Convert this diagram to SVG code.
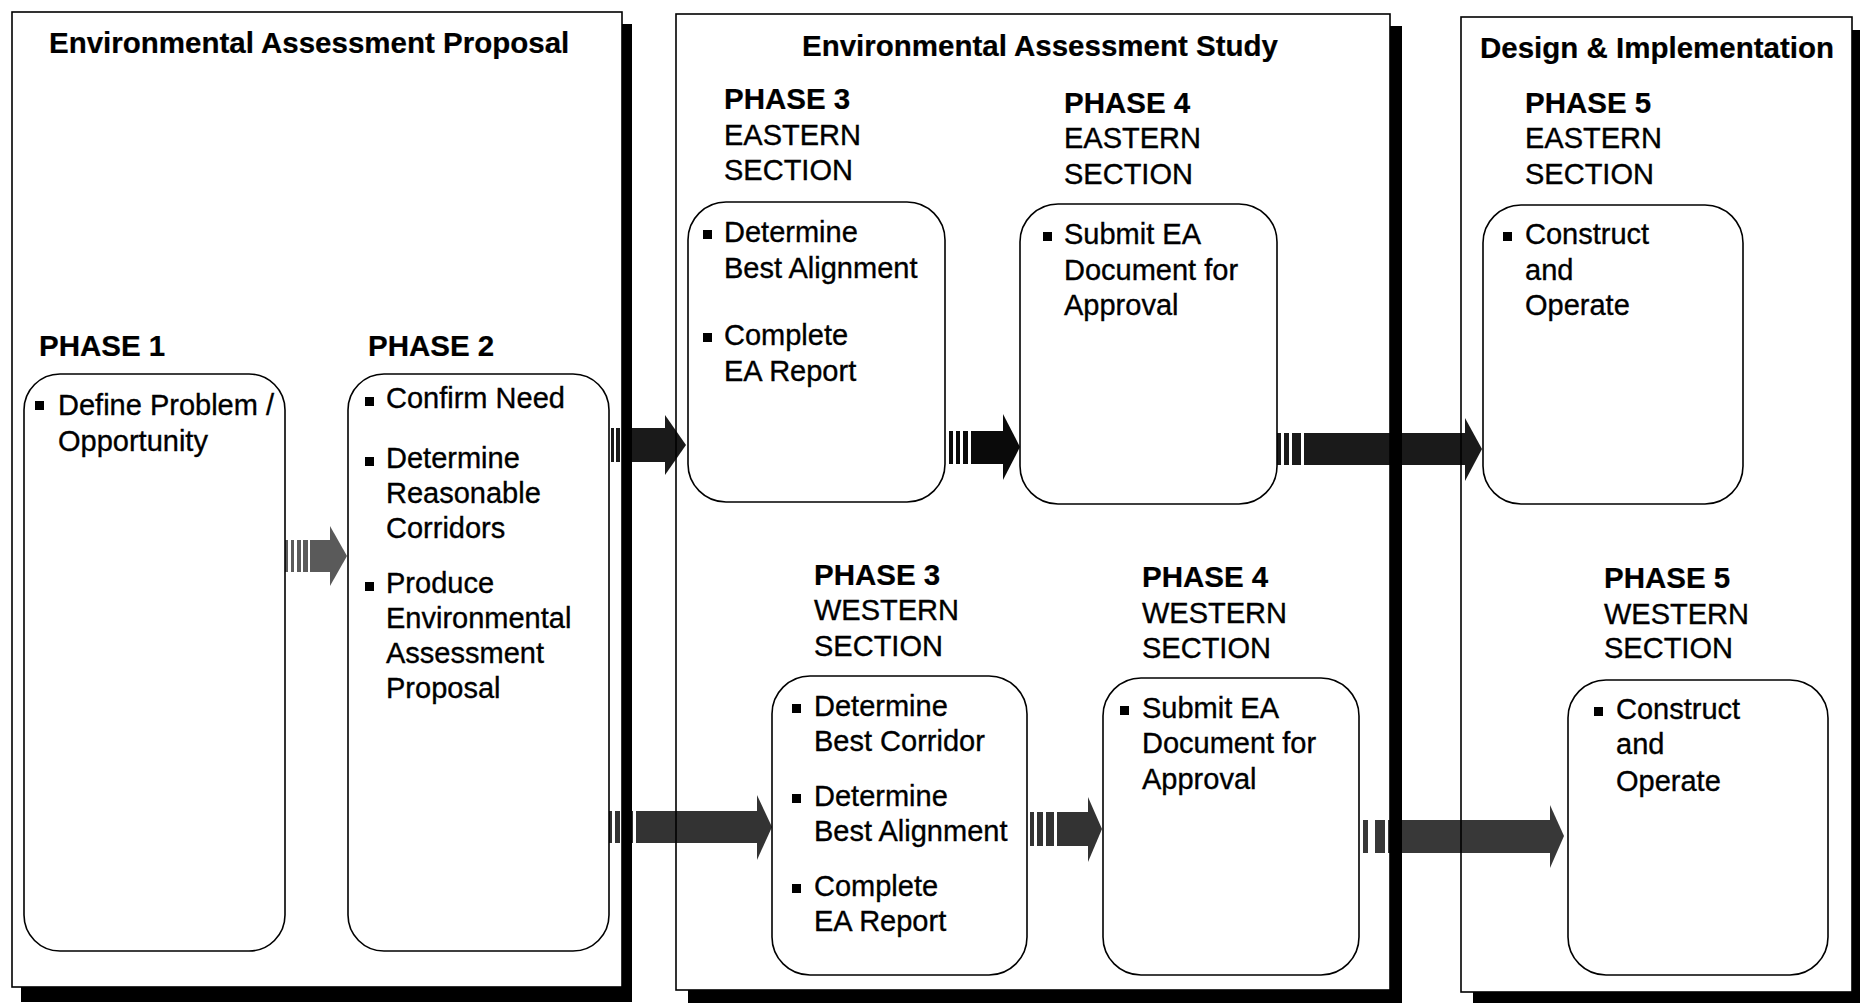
<svg xmlns="http://www.w3.org/2000/svg" width="1860" height="1003" viewBox="0 0 1860 1003">
<style>
.bg{fill:#fff}
.frame{fill:none;stroke:#000;stroke-width:1.6}
.shadow{fill:#000}
.box{fill:#fff;stroke:#000;stroke-width:1.6}
.t{font-family:"Liberation Sans",Arial,Helvetica,sans-serif;font-size:29px;fill:#000;stroke:#000;stroke-width:0.35}
.b{font-weight:bold;font-size:29.5px;stroke-width:0.2}
.bul{fill:#000}
</style>
<rect x="0" y="0" width="1860" height="1003" fill="#fff"/>
<g id="panel-backgrounds">
<rect class="bg" x="12" y="12" width="610" height="975"/>
<rect class="bg" x="676" y="14" width="714" height="976"/>
<rect class="bg" x="1461" y="17" width="391" height="975"/>
</g>
<g id="connectors">
<g id="arrow-p1-p2" fill="#5a5a5a">
<rect x="285" y="540" width="3" height="32"/><rect x="291" y="540" width="3" height="32"/><rect x="297" y="540" width="4" height="32"/><rect x="303" y="540" width="5" height="32"/>
<rect x="310" y="540" width="21" height="32"/><polygon points="330,526 347,556 330,586"/>
</g>
<g id="arrow-p2-p3e" fill="#1a1a1a">
<rect x="611" y="428" width="3" height="34"/><rect x="616" y="428" width="4" height="34"/>
<rect x="622" y="428" width="45" height="34"/><polygon points="665,415 686,445 665,475"/>
</g>
<g id="arrow-p3e-p4e" fill="#0a0a0a">
<rect x="949" y="431" width="4" height="33"/><rect x="956" y="431" width="4" height="33"/><rect x="963" y="431" width="5" height="33"/>
<rect x="971" y="431" width="33" height="33"/><polygon points="1003,414 1020,447 1003,480"/>
</g>
<g id="arrow-p4e-p5e" fill="#1a1a1a">
<rect x="1277" y="433" width="4" height="32"/><rect x="1284" y="433" width="5" height="32"/><rect x="1292" y="433" width="9" height="32"/>
<rect x="1304" y="433" width="162" height="32"/><polygon points="1465,418 1482,449 1465,481"/>
</g>
<g id="arrow-p2-p3w" fill="#333">
<rect x="608" y="811" width="4" height="32"/><rect x="615" y="811" width="5" height="32"/><rect x="623" y="811" width="10" height="32"/>
<rect x="636" y="811" width="122" height="32"/><polygon points="757,795 772,827 757,860"/>
</g>
<g id="arrow-p3w-p4w" fill="#333">
<rect x="1030" y="812" width="4" height="34"/><rect x="1037" y="812" width="6" height="34"/><rect x="1046" y="812" width="8" height="34"/>
<rect x="1057" y="812" width="32" height="34"/><polygon points="1088,797 1102,829 1088,862"/>
</g>
<g id="arrow-p4w-p5w" fill="#383838">
<rect x="1363" y="820" width="5" height="33"/><rect x="1375" y="820" width="10" height="33"/>
<rect x="1388" y="820" width="163" height="33"/><polygon points="1550,805 1564,836 1550,868"/>
</g>
</g>
<g id="panel-proposal">
<rect class="frame" x="12" y="12" width="610" height="975"/>
<rect class="shadow" x="622" y="24" width="10" height="978"/>
<rect class="shadow" x="21" y="987" width="611" height="15"/>
<text class="t b" x="49" y="53">Environmental Assessment Proposal</text>
</g>
<g id="panel-study">
<rect class="frame" x="676" y="14" width="714" height="976"/>
<rect class="shadow" x="1390" y="26" width="12" height="977"/>
<rect class="shadow" x="688" y="990" width="714" height="13"/>
<text class="t b" x="802" y="56">Environmental Assessment Study</text>
</g>
<g id="panel-design">
<rect class="frame" x="1461" y="17" width="391" height="975"/>
<rect class="shadow" x="1852" y="30" width="8" height="973"/>
<rect class="shadow" x="1473" y="992" width="387" height="11"/>
<text class="t b" x="1480" y="58">Design &amp; Implementation</text>
</g>
<g id="phase1">
<text class="t b" x="39" y="356">PHASE 1</text>
<rect class="box" x="24" y="374" width="261" height="577" rx="36"/>
<rect class="bul" x="35" y="401" width="9" height="9"/>
<text class="t" x="58" y="415">Define Problem /</text>
<text class="t" x="58" y="451">Opportunity</text>
</g>
<g id="phase2">
<text class="t b" x="368" y="356">PHASE 2</text>
<rect class="box" x="348" y="374" width="261" height="577" rx="36"/>
<rect class="bul" x="365" y="397" width="9" height="9"/>
<text class="t" x="386" y="408">Confirm Need</text>
<rect class="bul" x="365" y="457" width="9" height="9"/>
<text class="t" x="386" y="468">Determine</text>
<text class="t" x="386" y="503">Reasonable</text>
<text class="t" x="386" y="538">Corridors</text>
<rect class="bul" x="365" y="582" width="9" height="9"/>
<text class="t" x="386" y="593">Produce</text>
<text class="t" x="386" y="628">Environmental</text>
<text class="t" x="386" y="663">Assessment</text>
<text class="t" x="386" y="698">Proposal</text>
</g>
<g id="phase3-eastern">
<text class="t b" x="724" y="109">PHASE 3</text>
<text class="t" x="724" y="145">EASTERN</text>
<text class="t" x="724" y="180">SECTION</text>
<rect class="box" x="688" y="202" width="257" height="300" rx="38"/>
<rect class="bul" x="703" y="230" width="9" height="9"/>
<text class="t" x="724" y="242">Determine</text>
<text class="t" x="724" y="278">Best Alignment</text>
<rect class="bul" x="703" y="333" width="9" height="9"/>
<text class="t" x="724" y="345">Complete</text>
<text class="t" x="724" y="381">EA Report</text>
</g>
<g id="phase4-eastern">
<text class="t b" x="1064" y="113">PHASE 4</text>
<text class="t" x="1064" y="148">EASTERN</text>
<text class="t" x="1064" y="184">SECTION</text>
<rect class="box" x="1020" y="204" width="257" height="300" rx="38"/>
<rect class="bul" x="1043" y="232" width="9" height="9"/>
<text class="t" x="1064" y="244">Submit EA</text>
<text class="t" x="1064" y="280">Document for</text>
<text class="t" x="1064" y="315">Approval</text>
</g>
<g id="phase5-eastern">
<text class="t b" x="1525" y="113">PHASE 5</text>
<text class="t" x="1525" y="148">EASTERN</text>
<text class="t" x="1525" y="184">SECTION</text>
<rect class="box" x="1483" y="205" width="260" height="299" rx="38"/>
<rect class="bul" x="1503" y="232" width="9" height="9"/>
<text class="t" x="1525" y="244">Construct</text>
<text class="t" x="1525" y="280">and</text>
<text class="t" x="1525" y="315">Operate</text>
</g>
<g id="phase3-western">
<text class="t b" x="814" y="585">PHASE 3</text>
<text class="t" x="814" y="620">WESTERN</text>
<text class="t" x="814" y="656">SECTION</text>
<rect class="box" x="772" y="676" width="255" height="299" rx="38"/>
<rect class="bul" x="792" y="704" width="9" height="9"/>
<text class="t" x="814" y="716">Determine</text>
<text class="t" x="814" y="751">Best Corridor</text>
<rect class="bul" x="792" y="794" width="9" height="9"/>
<text class="t" x="814" y="806">Determine</text>
<text class="t" x="814" y="841">Best Alignment</text>
<rect class="bul" x="792" y="884" width="9" height="9"/>
<text class="t" x="814" y="896">Complete</text>
<text class="t" x="814" y="931">EA Report</text>
</g>
<g id="phase4-western">
<text class="t b" x="1142" y="587">PHASE 4</text>
<text class="t" x="1142" y="623">WESTERN</text>
<text class="t" x="1142" y="658">SECTION</text>
<rect class="box" x="1103" y="678" width="256" height="297" rx="38"/>
<rect class="bul" x="1120" y="706" width="9" height="9"/>
<text class="t" x="1142" y="718">Submit EA</text>
<text class="t" x="1142" y="753">Document for</text>
<text class="t" x="1142" y="789">Approval</text>
</g>
<g id="phase5-western">
<text class="t b" x="1604" y="588">PHASE 5</text>
<text class="t" x="1604" y="624">WESTERN</text>
<text class="t" x="1604" y="658">SECTION</text>
<rect class="box" x="1568" y="680" width="260" height="295" rx="38"/>
<rect class="bul" x="1594" y="707" width="9" height="9"/>
<text class="t" x="1616" y="719">Construct</text>
<text class="t" x="1616" y="754">and</text>
<text class="t" x="1616" y="791">Operate</text>
</g>
</svg>
